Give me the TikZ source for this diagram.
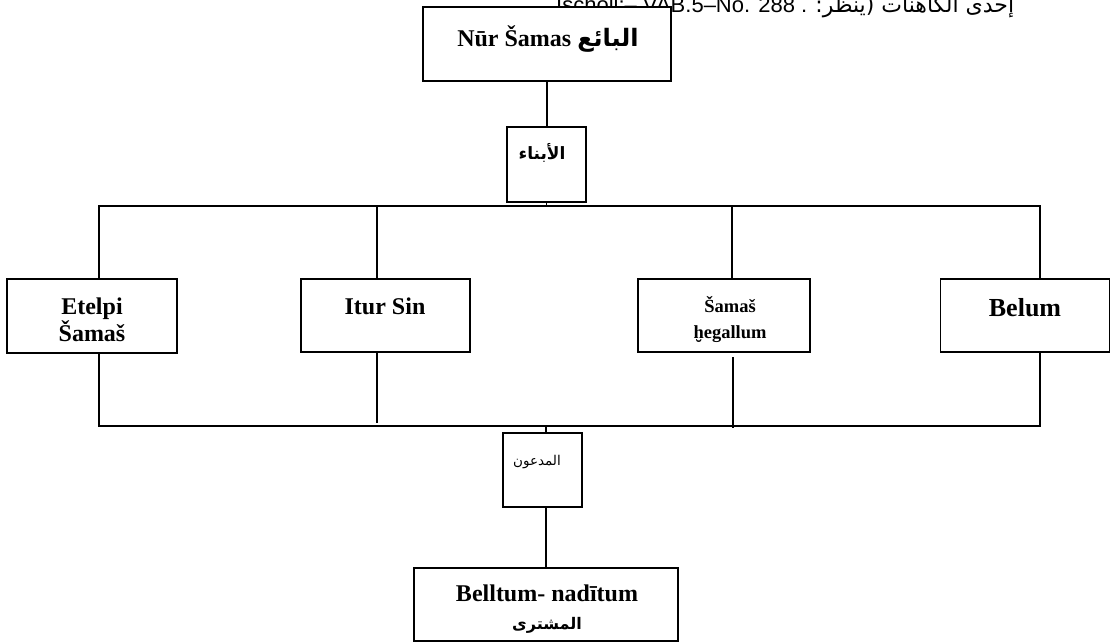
\documentclass[tikz,border=0pt]{standalone}
\usepackage{fontspec}
\setmainfont{Liberation Serif}
\newfontfamily\arabicfont[Script=Arabic]{DejaVu Sans}
\newfontfamily\notefont{Liberation Sans}
\TeXXeTstate=1
\tikzset{
  box/.style={draw=black, line width=1.8pt, rectangle, inner sep=0pt, outer sep=0pt, fill=white},
  conn/.style={draw=black, line width=1.9pt},
  lat/.style={font=\bfseries\fontsize{24}{28}\selectfont, inner sep=0pt, anchor=base},
  ar/.style={font=\arabicfont\bfseries\fontsize{17}{19}\selectfont, inner sep=0pt},
}
\begin{document}
\begin{tikzpicture}[x=1pt,y=-1pt]
\useasboundingbox (0,0) rectangle (1111,643);
\fill[white] (0,0) rectangle (1111,643);

% top note (clipped at the page top, as in the source)
\node[font=\notefont\fontsize{22}{24}\selectfont, inner sep=0pt, anchor=base west] (note) at (556,12)
  {Ischoll:– VAB.5–No. 288 . {\arabicfont\beginR إحدى الكاهنات (ينظر:\endR}};

% boxes
\node[box, minimum width=248pt, minimum height=74pt] (top) at (547,44) {};
\node[box, minimum width=79pt, minimum height=75pt] (sons) at (546.5,164.5) {};
\node[box, minimum width=170pt, minimum height=74pt] (e) at (92,316) {};
\node[box, minimum width=169pt, minimum height=73pt] (i) at (385.5,315.5) {};
\node[box, minimum width=172pt, minimum height=73pt] (s) at (724,315.5) {};
\node[box, minimum width=169pt, minimum height=73pt] (b) at (1025,315.5) {};
\node[box, minimum width=79pt, minimum height=74pt] (mad) at (542.5,470) {};
\node[box, minimum width=264pt, minimum height=73pt] (buyer) at (546,604.5) {};

% texts
\node[lat] (ttop) at (548,46) {Nūr Šamas {\arabicfont\beginR البائع\endR}};
\node[ar] (tsons) at (542,153) {\beginR الأبناء\endR};
\node[lat] (te1) at (92,314) {Etelpi};
\node[lat] (te2) at (92,341) {Šamaš};
\node[lat] (ti) at (385,314) {Itur Sin};
\node[lat, font=\bfseries\fontsize{18.5}{22}\selectfont] (ts1) at (730,312) {Šamaš};
\node[lat, font=\bfseries\fontsize{18.5}{22}\selectfont] (ts2) at (730,338) {ḫegallum};
\node[lat, font=\bfseries\fontsize{26}{30}\selectfont] (tb) at (1025,316) {Belum};
\node[font=\arabicfont\fontsize{13.5}{15}\selectfont, inner sep=0pt] (tmad) at (537,462) {\beginR المدعون\endR};
\node[lat] (tbuy1) at (547,601) {Belltum- nadītum};
\node[ar, anchor=base, font=\arabicfont\bfseries\fontsize{16}{18}\selectfont] (tbuy2) at (547,629) {\beginR المشترى\endR};

% bar coordinates
\coordinate (tl) at (99,206);
\coordinate (tr) at (1040,206);
\coordinate (tix) at (377,206);
\coordinate (tsx) at (732,206);
\coordinate (bl) at (99,426);
\coordinate (br) at (1040,426);
\coordinate (bi) at (377,423);
\coordinate (bs0) at (733,357);
\coordinate (bs) at (733,428);
\coordinate (mx) at (546,426);

% connectors
\draw[conn] (top.south) -- (top.south |- sons.north);
\draw[conn] (sons.south) -- (sons.south |- tl);
\draw[conn] (e.north -| tl) -- (tl) -- (tr) -- (b.north -| tr);
\draw[conn] (tix) -- (tix |- i.north);
\draw[conn] (tsx) -- (tsx |- s.north);
\draw[conn] (e.south -| bl) -- (bl) -- (br) -- (b.south -| br);
\draw[conn] (bi |- i.south) -- (bi);
\draw[conn] (bs0) -- (bs);
\draw[conn] (mx) -- (mx |- mad.north);
\draw[conn] (buyer.north) -- (buyer.north |- mad.south);
\end{tikzpicture}
\end{document}
